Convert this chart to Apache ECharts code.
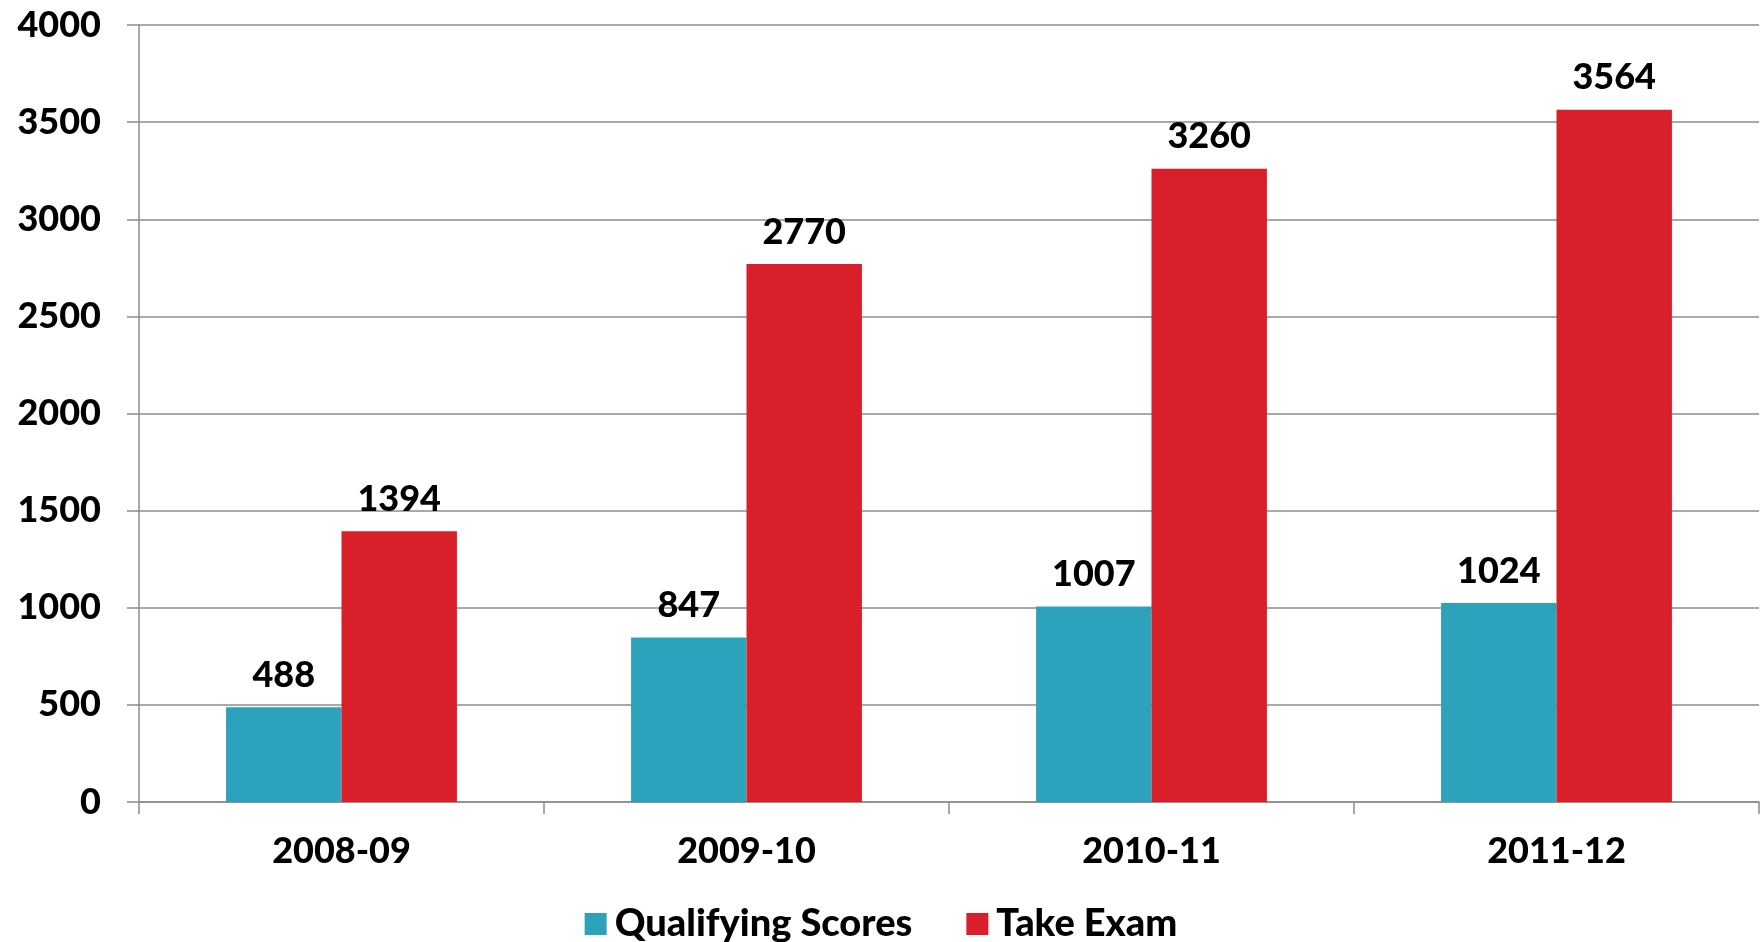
<!DOCTYPE html>
<html>
<head>
<meta charset="utf-8">
<script src="https://cdn.jsdelivr.net/npm/echarts@6/dist/echarts.min.js"></script>
<style>
  html, body { margin: 0; padding: 0; background: #fff; }
  #chart { width: 1762px; height: 942px; }
</style>
</head>
<body>
<div id="chart"></div>
<script>
var years = ['2008-09', '2009-10', '2010-11', '2011-12'];
var qualifying = [488, 847, 1007, 1024];
var takeExam = [1394, 2770, 3260, 3564];

var FONT = 'Lato';
var chart = echarts.init(document.getElementById('chart'));

var labelStyle = {
    show: true,
    position: 'top',
    distance: 14,
    color: '#000',
    fontFamily: FONT,
    fontWeight: 900,
    fontSize: 36
};

var option = {
    animation: false,
    grid: { left: 139, right: 3, top: 25, bottom: 140 },
    legend: {
        top: 905,
        left: 'center',
        padding: 0,
        itemWidth: 22,
        itemHeight: 22,
        itemGap: 54,
        icon: 'rect',
        textStyle: { fontFamily: FONT, fontWeight: 900, fontSize: 38, color: '#000', padding: [0, 0, 0, 3] },
        data: ['Qualifying Scores', 'Take Exam']
    },
    xAxis: {
        type: 'category',
        data: years,
        axisLine: { lineStyle: { color: '#8c8c8c', width: 1.5 } },
        axisTick: { show: true, length: 12, lineStyle: { color: '#8c8c8c', width: 1.5 } },
        axisLabel: { margin: 31, color: '#000', fontFamily: FONT, fontWeight: 900, fontSize: 36 }
    },
    yAxis: {
        type: 'value',
        min: 0,
        max: 4000,
        interval: 500,
        axisLine: { show: true, lineStyle: { color: '#8c8c8c', width: 1.5 } },
        axisTick: { show: true, length: 12, lineStyle: { color: '#8c8c8c', width: 1.5 } },
        splitLine: { lineStyle: { color: '#8c8c8c', width: 1.5 } },
        axisLabel: {
            margin: 38, color: '#000', fontFamily: FONT, fontWeight: 900, fontSize: 36,
            formatter: function (v) { return String(v); }
        }
    },
    series: [
        {
            name: 'Qualifying Scores',
            type: 'bar',
            data: qualifying,
            barGap: '0%',
            barCategoryGap: '43%',
            itemStyle: { color: '#2ca2bd' },
            label: labelStyle
        },
        {
            name: 'Take Exam',
            type: 'bar',
            data: takeExam,
            itemStyle: { color: '#d81f2a' },
            label: labelStyle
        }
    ]
};

chart.setOption(option);
</script>
</body>
</html>
